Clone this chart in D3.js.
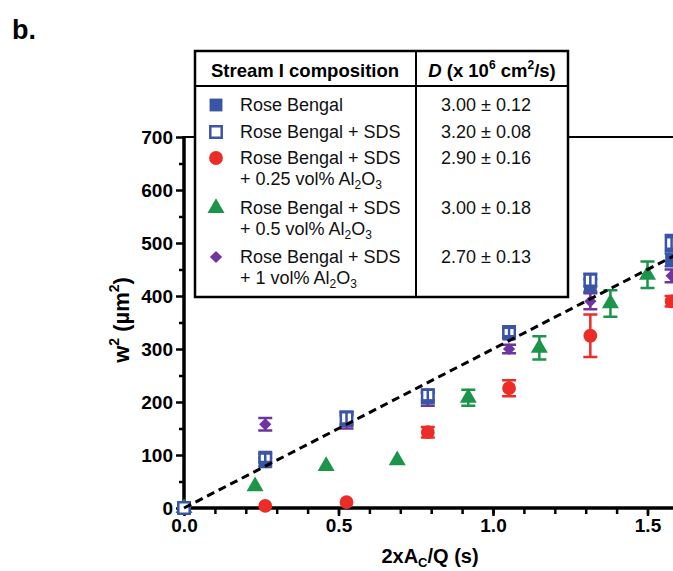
<!DOCTYPE html>
<html>
<head>
<meta charset="utf-8">
<script src="https://cdn.jsdelivr.net/npm/d3@7"></script>
<style>
  body { margin: 0; background: #fff; }
  text { font-family: "Liberation Sans", Arial, sans-serif; }
</style>
</head>
<body>
<div id="chart"></div>
<script>
// data
var xMain = [0, 0.263, 0.526, 0.789, 1.052, 1.315, 1.578];
var xTri = [0, 0.23, 0.46, 0.69, 0.92, 1.15, 1.38, 1.50];

var rb = [0, 87, 165, 208, 328, 420, 468];
var rbErr = [0, 8, 10, 10, 8, 12, 12];
var rbSds = [0, 95, 170, 213, 332, 430, 500];
var rbSdsErr = [0, 8, 12, 10, 8, 12, 15];
var al025 = [0, 4, 11, 143, 226, 325, 390];
var al025Err = [0, 0, 0, 10, 15, 40, 10];
var al05 = [0, 41, 79, 90, 208, 302, 386, 440];
var al05Err = [0, 0, 0, 0, 15, 22, 25, 25];
var al1 = [0, 158, 165, 205, 300, 390, 438];
var al1Err = [0, 12, 15, 12, 8, 15, 12];

var fitSlope = 300;
var xMajor = [0, 0.5, 1.0, 1.5];
var yMajor = [0, 100, 200, 300, 400, 500, 600, 700];

var legendRows = [
  { key: "rb", lines: ["Rose Bengal"], d: "3.00 ± 0.12" },
  { key: "rbSds", lines: ["Rose Bengal + SDS"], d: "3.20 ± 0.08" },
  { key: "al025", lines: ["Rose Bengal + SDS", "+ 0.25 vol% Al|2|O|3"], d: "2.90 ± 0.16" },
  { key: "al05", lines: ["Rose Bengal + SDS", "+ 0.5 vol% Al|2|O|3"], d: "3.00 ± 0.18" },
  { key: "al1", lines: ["Rose Bengal + SDS", "+ 1 vol% Al|2|O|3"], d: "2.70 ± 0.13" }
];

var colors = { rb: "#3b55a6", rbSds: "#3b55a6", al025: "#ec2d27", al05: "#1c9449", al1: "#7034a0" };

var width = 673, height = 571;

var svg = d3.select("#chart").append("svg")
    .attr("width", width)
    .attr("height", height);

var x = d3.scaleLinear().domain([0, 1.6]).range([184, 184 + 309 * 1.6]);
var y = d3.scaleLinear().domain([0, 700]).range([508, 137]);

// panel letter
svg.append("text").attr("x", 12).attr("y", 39)
    .attr("font-size", 27).attr("font-weight", "bold").text("b.");

// top frame line
svg.append("line")
    .attr("x1", x(0)).attr("x2", width)
    .attr("y1", y(700)).attr("y2", y(700))
    .attr("stroke", "#000").attr("stroke-width", 2);

// axes
var yMinor = svg.append("g").attr("transform", "translate(" + x(0) + ",0)")
    .call(d3.axisLeft(y).tickValues(d3.range(50, 700, 100)).tickSize(5).tickFormat(""));
var yAxis = svg.append("g").attr("transform", "translate(" + x(0) + ",0)")
    .call(d3.axisLeft(y).tickValues(yMajor).tickSize(8).tickPadding(3));
var xMinor = svg.append("g").attr("transform", "translate(0," + y(0) + ")")
    .call(d3.axisBottom(x).tickValues(d3.range(1, 17).map(function (d) { return d / 10; })).tickSize(6).tickFormat(""));
var xAxis = svg.append("g").attr("transform", "translate(0," + y(0) + ")")
    .call(d3.axisBottom(x).tickValues(xMajor).tickSize(8).tickPadding(3).tickFormat(d3.format(".1f")));

[yMinor, yAxis, xMinor, xAxis].forEach(function (g) {
  g.selectAll("path").remove();
  g.selectAll("line").attr("stroke", "#000").attr("stroke-width", 2.5);
  g.selectAll("text").attr("font-size", 19).attr("font-weight", "bold").attr("fill", "#000")
    .style("font-family", "'Liberation Sans', Arial, sans-serif");
});

svg.append("line").attr("x1", x(0)).attr("x2", x(0)).attr("y1", y(700) - 1).attr("y2", y(0) + 4)
    .attr("stroke", "#000").attr("stroke-width", 3.5);
svg.append("line").attr("x1", x(0) - 2).attr("x2", width).attr("y1", y(0)).attr("y2", y(0))
    .attr("stroke", "#000").attr("stroke-width", 3.5);

// axis titles
var xt = svg.append("text").attr("x", 430).attr("y", 563).attr("text-anchor", "middle")
    .attr("font-size", 20).attr("font-weight", "bold");
xt.append("tspan").text("2xA");
xt.append("tspan").attr("font-size", 13).attr("dy", 4).text("C");
xt.append("tspan").attr("dy", -4).text("/Q  (s)");

var yt = svg.append("text").attr("transform", "translate(129,320) rotate(-90)")
    .attr("text-anchor", "middle").attr("font-size", 22).attr("font-weight", "bold");
yt.append("tspan").text("w");
yt.append("tspan").attr("font-size", 14).attr("dy", -10).text("2");
yt.append("tspan").attr("dy", 10).text("  (µm");
yt.append("tspan").attr("font-size", 14).attr("dy", -10).text("2");
yt.append("tspan").attr("dy", 10).text(")");

// marker shapes (diamond = square turned 45 degrees)
var symbols = {
  rb: d3.symbol().type(d3.symbolSquare).size(165),
  rbSds: d3.symbol().type(d3.symbolSquare).size(130),
  al025: d3.symbol().type(d3.symbolCircle).size(150),
  al05: d3.symbol().type(d3.symbolTriangle).size(125),
  al1: d3.symbol().type(d3.symbolSquare).size(75)
};
var rot = { al1: " rotate(45)" };

function drawSeries(key, xs, vals, errs) {
  var g = svg.append("g");
  var c = colors[key];
  var pts = xs.map(function (d, i) { return { x: d, v: vals[i], e: errs[i] }; });
  var withErr = pts.filter(function (p) { return p.e > 0; });
  function drawErr() {
    g.selectAll(null).data(withErr).enter().append("path")
      .attr("d", function (p) {
        var cx = x(p.x), t = y(p.v + p.e), b = y(p.v - p.e);
        return "M" + (cx - 7) + "," + t + "H" + (cx + 7) + "M" + cx + "," + t + "V" + b +
               "M" + (cx - 7) + "," + b + "H" + (cx + 7);
      })
      .attr("fill", "none").attr("stroke", c).attr("stroke-width", 2.5);
  }
  if (key !== "rbSds") drawErr();
  g.selectAll(null).data(pts).enter().append("path")
    .attr("transform", function (p) { return "translate(" + x(p.x) + "," + y(p.v) + ")" + (rot[key] || ""); })
    .attr("d", symbols[key])
    .attr("fill", key === "rbSds" ? "#fff" : c)
    .attr("stroke", key === "rbSds" ? c : "none")
    .attr("stroke-width", 2.5);
  if (key === "rbSds") drawErr();
}

drawSeries("al05", xTri, al05, al05Err);
drawSeries("al025", xMain, al025, al025Err);
drawSeries("al1", xMain, al1, al1Err);
drawSeries("rb", xMain, rb, rbErr);
drawSeries("rbSds", xMain, rbSds, rbSdsErr);

// fitted dashed line
svg.append("path")
    .datum([0, 1.6])
    .attr("d", d3.line().x(function (d) { return x(d); }).y(function (d) { return y(fitSlope * d); }))
    .attr("fill", "none").attr("stroke", "#000").attr("stroke-width", 3)
    .attr("stroke-dasharray", "8,5");

// legend table
var lg = svg.append("g");
lg.append("rect").attr("x", 195).attr("y", 51).attr("width", 373).attr("height", 246)
    .attr("fill", "#fff").attr("stroke", "#000").attr("stroke-width", 2.5);
lg.append("line").attr("x1", 195).attr("x2", 568).attr("y1", 86).attr("y2", 86)
    .attr("stroke", "#000").attr("stroke-width", 2);
lg.append("line").attr("x1", 416).attr("x2", 416).attr("y1", 51).attr("y2", 297)
    .attr("stroke", "#000").attr("stroke-width", 2);

lg.append("text").attr("x", 305).attr("y", 77).attr("text-anchor", "middle")
    .attr("font-size", 18.5).attr("font-weight", "bold").text("Stream I composition");
var hd = lg.append("text").attr("x", 492).attr("y", 77).attr("text-anchor", "middle")
    .attr("font-size", 18.5).attr("font-weight", "bold");
hd.append("tspan").attr("font-style", "italic").text("D");
hd.append("tspan").text(" (x 10");
hd.append("tspan").attr("font-size", 12).attr("dy", -8).text("6");
hd.append("tspan").attr("dy", 8).text(" cm");
hd.append("tspan").attr("font-size", 12).attr("dy", -8).text("2");
hd.append("tspan").attr("dy", 8).text("/s)");

var rowY = [111, 138, 164, 214, 263];
legendRows.forEach(function (r, i) {
  var yy = rowY[i];
  var key = r.key;
  lg.append("path").attr("transform", "translate(216," + (yy - 6) + ")" + (rot[key] || ""))
    .attr("d", symbols[key])
    .attr("fill", key === "rbSds" ? "#fff" : colors[key])
    .attr("stroke", key === "rbSds" ? colors[key] : "none")
    .attr("stroke-width", 2.5);
  r.lines.forEach(function (ln, j) {
    var t = lg.append("text").attr("x", 240).attr("y", yy + j * 21).attr("font-size", 18).attr("fill", "#111");
    var parts = ln.split("|");
    parts.forEach(function (p, k) {
      var sub = k % 2 === 1;
      var ts = t.append("tspan").text(p);
      if (sub) ts.attr("font-size", 12).attr("dy", 4);
      else if (k > 0) ts.attr("dy", -4);
    });
  });
  lg.append("text").attr("x", 486).attr("y", yy).attr("text-anchor", "middle")
    .attr("font-size", 18).attr("fill", "#111").text(r.d);
});
</script>
</body>
</html>
